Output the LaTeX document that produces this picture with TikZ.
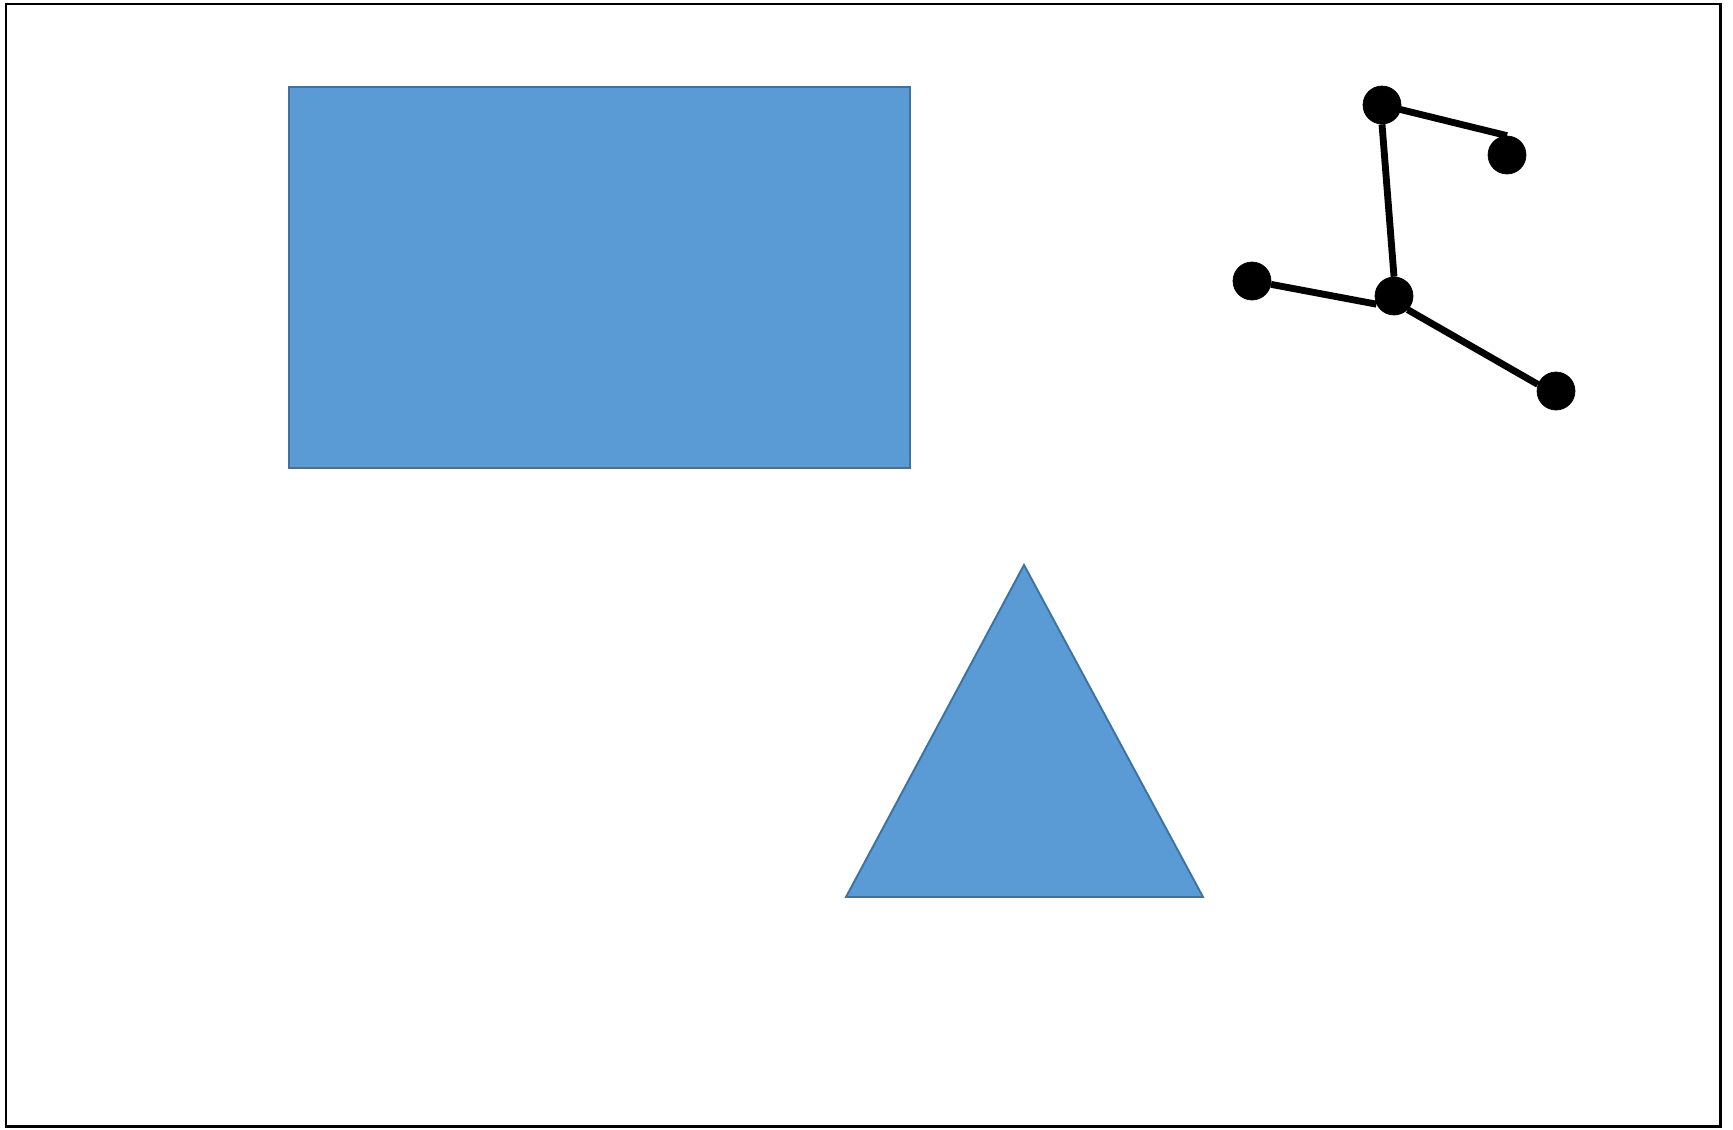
\documentclass[tikz,border=0pt]{standalone}
\usepackage{xcolor}
\usepackage{tikz}
\usetikzlibrary{positioning}

\definecolor{shapeblue}{HTML}{5B9BD5}
\definecolor{shapeedge}{HTML}{41719C}

\begin{document}
\begin{tikzpicture}[
  x=0.02cm, y=-0.02cm,
  dot/.style={draw, circle, fill=black, inner sep=0pt, minimum size=0.76cm},
  link/.style={line width=3.9pt},
  blueshape/.style={fill=shapeblue, draw=shapeedge, line width=1.1pt}
]
  \useasboundingbox (0,0) rectangle (1733,1129);
  \draw[line width=1.7pt] (6,4) rectangle (1720,1126);

  \draw[blueshape] (289,87) rectangle (910,468);
  \draw[blueshape] (1024,565) -- (1203,897) -- (846,897) -- cycle;

  \node[dot] (top)   at (1382,105) {};
  \node[dot] (upr)   at (1507,155) {};
  \node[dot] (mid)   at (1394,296) {};
  \node[dot] (left)  at (1252,281) {};
  \node[dot] (lowr)  at (1556,391) {};

  \draw[link] (top.center) -- (upr.north);
  \draw[link] (top.south) -- (mid.north);
  \draw[link] (left.-10) -- (mid.205);
  \draw[link] (mid.south east) -- (lowr.160);
\end{tikzpicture}
\end{document}
